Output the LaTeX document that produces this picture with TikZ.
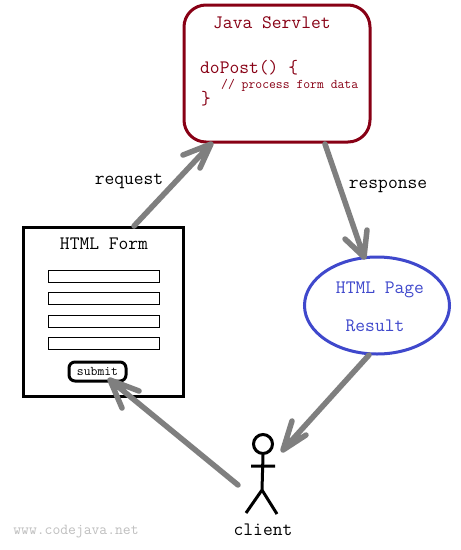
\documentclass[tikz,border=0pt]{standalone}
\usepackage{fontspec}
\setmainfont{Liberation Mono}
\usetikzlibrary{shapes.geometric}
\definecolor{servletred}{HTML}{880015}
\definecolor{pageblue}{HTML}{3F48CC}
\definecolor{arrowgray}{HTML}{7F7F7F}
\tikzset{
  x=1pt,y=-1pt,
  blockbox/.style={draw=black,line width=3pt,minimum width=160pt,minimum height=169pt,inner sep=0pt},
  fieldbox/.style={draw=black,line width=1.3pt,minimum width=111pt,minimum height=12.5pt,inner sep=0pt},
  submitbox/.style={draw=black,line width=3pt,rounded corners=6pt,minimum width=57pt,minimum height=19pt,inner sep=0pt,font=\ttfamily\fontsize{13.3}{14}\selectfont},
  servletbox/.style={draw=servletred,line width=3pt,rounded corners=22pt,minimum width=186pt,minimum height=137pt,inner sep=0pt},
  pageoval/.style={draw=pageblue,line width=3pt,ellipse,minimum width=145pt,minimum height=97pt,inner sep=0pt},
  flow/.style={draw=arrowgray,line width=5.5pt,line cap=round,line join=round},
  label/.style={font=\ttfamily\fontsize{19}{20}\selectfont,inner sep=0pt},
  servlettext/.style={label,text=servletred,anchor=west},
  pagetext/.style={label,text=pageblue},
  limb/.style={draw=black,line width=3pt}
}
\begin{document}
\begin{tikzpicture}
\useasboundingbox (0,0) rectangle (461,550);
\fill[white] (0,0) rectangle (461,550);
\node[servletbox] (servlet) at (277,73.5) {};
\node[blockbox,fill=white] (form) at (103,311.5) {};
\node[pageoval] (page) at (377,305.5) {};
\node[servlettext] (title) at (213,22.5) {Java Servlet};
\node[servlettext] (post) at (200,68) {doPost() \{};
\node[servlettext,font=\ttfamily\fontsize{13.3}{14}\selectfont] (comment) at (221,85) {// process form data};
\node[servlettext] (close) at (201,99) {\}};
\node[label] (formtitle) at (104,244) {HTML Form};
\node[fieldbox] (f1) at (104,276.5) {};
\node[fieldbox] (f2) at (104,298.5) {};
\node[fieldbox] (f3) at (104,321.5) {};
\node[fieldbox] (f4) at (104,343.5) {};
\node[submitbox] (submit) at (97.5,371.5) {submit};
\node[pagetext] (pg1) at (380,290) {HTML Page};
\node[pagetext] (pg2) at (375,326) {Result};
\node[label] (req) at (129,181) {request};
\node[label] (resp) at (388,186.5) {response};
\node[label] (client) at (263,530) {client};
\node[font=\ttfamily\fontsize{15.2}{16}\selectfont,text=black!25,inner sep=0pt] (mark) at (76,532) {www.codejava.net};
\node[circle,draw=black,line width=3pt,minimum size=19pt,inner sep=0pt] (head) at (263,444) {};
\coordinate (hip) at (262,490);
\coordinate (armL) at (251,466);
\coordinate (armR) at (275,466);
\coordinate (legL) at (246,513);
\coordinate (legR) at (277,514);
\draw[limb] (head.south) -- (hip) (armL) -- (armR) (legL) -- (hip) -- (legR);
\coordinate (a1) at (134,226); \coordinate (a1t) at (211,144);
\coordinate (a1b) at (183,155); \coordinate (a1c) at (200,168);
\draw[flow] (a1) -- (a1t) (a1b) -- (a1t) -- (a1c);
\coordinate (a2) at (325,144); \coordinate (a2t) at (364,257);
\coordinate (a2b) at (345,239); \coordinate (a2c) at (367,230);
\draw[flow] (a2) -- (a2t) (a2b) -- (a2t) -- (a2c);
\coordinate (a3) at (369,355); \coordinate (a3t) at (283,450);
\coordinate (a3b) at (292,421); \coordinate (a3c) at (306,435);
\draw[flow] (a3) -- (a3t) (a3b) -- (a3t) -- (a3c);
\coordinate (a4) at (238,485); \coordinate (a4t) at (110,380);
\coordinate (a4b) at (139,391); \coordinate (a4c) at (122,408);
\draw[flow] (a4) -- (a4t) (a4b) -- (a4t) -- (a4c);
\end{tikzpicture}
\end{document}
